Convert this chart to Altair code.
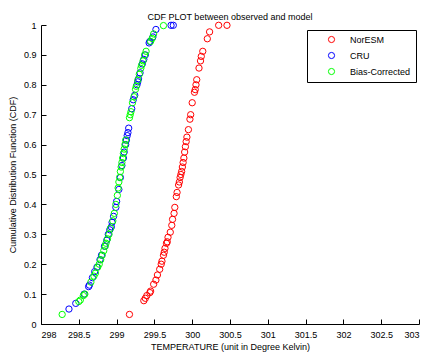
import altair as alt
import pandas as pd

series_names = ["NorESM", "CRU", "Bias-Corrected"]
series_colors = ["#ff0000", "#0000ff", "#00ff00"]

noresm_temp = [299.17, 299.36, 299.38, 299.40, 299.44, 299.45, 299.49, 299.52, 299.54, 299.57,
               299.59, 299.60, 299.62, 299.63, 299.64, 299.66, 299.67, 299.68, 299.71, 299.73,
               299.74, 299.76, 299.77, 299.79, 299.80, 299.82, 299.83, 299.84, 299.85, 299.86,
               299.87, 299.88, 299.89, 299.90, 299.91, 299.92, 299.93, 299.95, 299.97, 299.98,
               300.00, 300.03, 300.04, 300.05, 300.06, 300.09, 300.11, 300.12, 300.14, 300.20,
               300.23, 300.35, 300.46]
noresm_cdf = [0.032, 0.078, 0.086, 0.095, 0.105, 0.11, 0.133, 0.147, 0.164, 0.183,
              0.20, 0.21, 0.23, 0.24, 0.253, 0.27, 0.275, 0.29, 0.307, 0.33,
              0.35, 0.37, 0.39, 0.426, 0.44, 0.465, 0.475, 0.49, 0.50, 0.51,
              0.525, 0.54, 0.555, 0.575, 0.593, 0.61, 0.625, 0.65, 0.685, 0.70,
              0.74, 0.775, 0.784, 0.80, 0.817, 0.856, 0.88, 0.895, 0.912, 0.954,
              0.977, 0.999, 0.999]

cru_temp = [298.37, 298.46, 298.57, 298.63, 298.64, 298.68, 298.71, 298.74, 298.78, 298.80,
            298.84, 298.87, 298.89, 298.91, 298.93, 298.94, 298.96, 298.99, 299.00, 299.03,
            299.05, 299.07, 299.09, 299.10, 299.12, 299.13, 299.14, 299.15, 299.16, 299.20,
            299.22, 299.24, 299.27, 299.28, 299.29, 299.31, 299.34, 299.36, 299.38, 299.43,
            299.44, 299.48, 299.52, 299.72, 299.75]
cru_cdf = [0.05, 0.069, 0.10, 0.125, 0.13, 0.155, 0.175, 0.19, 0.215, 0.23,
           0.26, 0.28, 0.30, 0.315, 0.325, 0.34, 0.36, 0.39, 0.41, 0.45,
           0.49, 0.53, 0.555, 0.575, 0.60, 0.615, 0.63, 0.64, 0.655, 0.72,
           0.75, 0.765, 0.80, 0.81, 0.82, 0.84, 0.87, 0.885, 0.90, 0.94,
           0.945, 0.96, 0.985, 0.999, 0.999]

bc_temp = [298.28, 298.50, 298.52, 298.56, 298.58, 298.66, 298.70, 298.72, 298.75, 298.77,
           298.79, 298.81, 298.83, 298.85, 298.86, 298.88, 298.90, 298.92, 298.95, 298.97,
           298.99, 299.01, 299.02, 299.03, 299.04, 299.05, 299.06, 299.07, 299.08, 299.09,
           299.10, 299.11, 299.12, 299.17, 299.18, 299.19, 299.21, 299.23, 299.25, 299.26,
           299.28, 299.30, 299.32, 299.33, 299.35, 299.37, 299.39, 299.45, 299.47, 299.49,
           299.62]
bc_cdf = [0.032, 0.075, 0.08, 0.095, 0.10, 0.14, 0.16, 0.17, 0.19, 0.20,
          0.215, 0.23, 0.245, 0.26, 0.27, 0.285, 0.30, 0.32, 0.345, 0.37,
          0.40, 0.43, 0.455, 0.475, 0.49, 0.51, 0.525, 0.54, 0.555, 0.57,
          0.585, 0.60, 0.615, 0.69, 0.70, 0.71, 0.74, 0.76, 0.785, 0.795,
          0.815, 0.835, 0.855, 0.865, 0.88, 0.90, 0.912, 0.945, 0.955, 0.97,
          0.998]

x_ticks = [298, 298.5, 299, 299.5, 300, 300.5, 301, 301.5, 302, 302.5, 303]
y_ticks = [0, 0.1, 0.2, 0.3, 0.4, 0.5, 0.6, 0.7, 0.8, 0.9, 1]

rows = []
for k, (name, ts, cs) in enumerate(zip(series_names, [noresm_temp, cru_temp, bc_temp],
                                       [noresm_cdf, cru_cdf, bc_cdf])):
    for t, c in zip(ts, cs):
        rows.append({"series": name, "temp": t, "cdf": c, "ord": k})
df = pd.DataFrame(rows)

FONT = "Liberation Sans"
xscale = alt.Scale(domain=[298, 303], nice=False, zero=False)
yscale = alt.Scale(domain=[0, 1], nice=False, zero=False)

points = alt.Chart(df).mark_point(shape="circle", filled=False, size=40, strokeWidth=1, opacity=1).encode(
    x=alt.X("temp:Q", scale=xscale,
            axis=alt.Axis(values=x_ticks, format="~g", tickSize=0, grid=False, domainColor="black",
                          labelPadding=6, labelFontSize=9, labelFont=FONT, labelColor="black",
                          title="TEMPERATURE (unit in Degree Kelvin)", titleFont=FONT,
                          titleFontSize=9, titleFontWeight="normal", titleColor="black",
                          titlePadding=3)),
    y=alt.Y("cdf:Q", scale=yscale,
            axis=alt.Axis(values=y_ticks, format="~g", tickSize=0, grid=False, domainColor="black",
                          labelPadding=5, labelFontSize=9, labelFont=FONT, labelColor="black",
                          title="Cumulative Distribution Function (CDF)", titleFont=FONT,
                          titleFontSize=9, titleFontWeight="normal", titleColor="black",
                          titlePadding=6)),
    color=alt.Color("series:N", scale=alt.Scale(domain=series_names, range=series_colors),
                    legend=alt.Legend(orient="none", legendX=266, legendY=5, title=None,
                                      strokeColor="black", fillColor="white", padding=5,
                                      symbolType="circle", symbolSize=38, symbolStrokeWidth=1,
                                      symbolOffset=15, labelOffset=14, labelFont=FONT,
                                      labelFontSize=9, labelColor="black", rowPadding=5,
                                      cornerRadius=0)),
    order=alt.Order("ord:Q"),
)

inner_ticks = alt.Chart(df).mark_point(opacity=0).encode(
    x=alt.X("temp:Q", scale=xscale,
            axis=alt.Axis(orient="top", offset=-299, values=x_ticks, labels=False, domain=False,
                          tickSize=5, tickColor="black", grid=False, title=None)),
    y=alt.Y("cdf:Q", scale=yscale,
            axis=alt.Axis(orient="right", offset=-378, values=y_ticks, labels=False, domain=False,
                          tickSize=5, tickColor="black", grid=False, title=None)),
)

chart = alt.layer(points, inner_ticks).resolve_axis(x="independent", y="independent").properties(
    width=378, height=299,
    title=alt.TitleParams("CDF PLOT between observed and model", font=FONT, fontSize=9,
                          fontWeight="normal", color="black", anchor="middle", offset=5, dy=7),
    autosize=alt.AutoSizeParams(type="none"),
    padding={"left": 41, "top": 25, "right": 9, "bottom": 29},
    background="white",
).configure_view(stroke=None)

chart.save("out.html", embed_options={"renderer": "svg", "actions": False})
